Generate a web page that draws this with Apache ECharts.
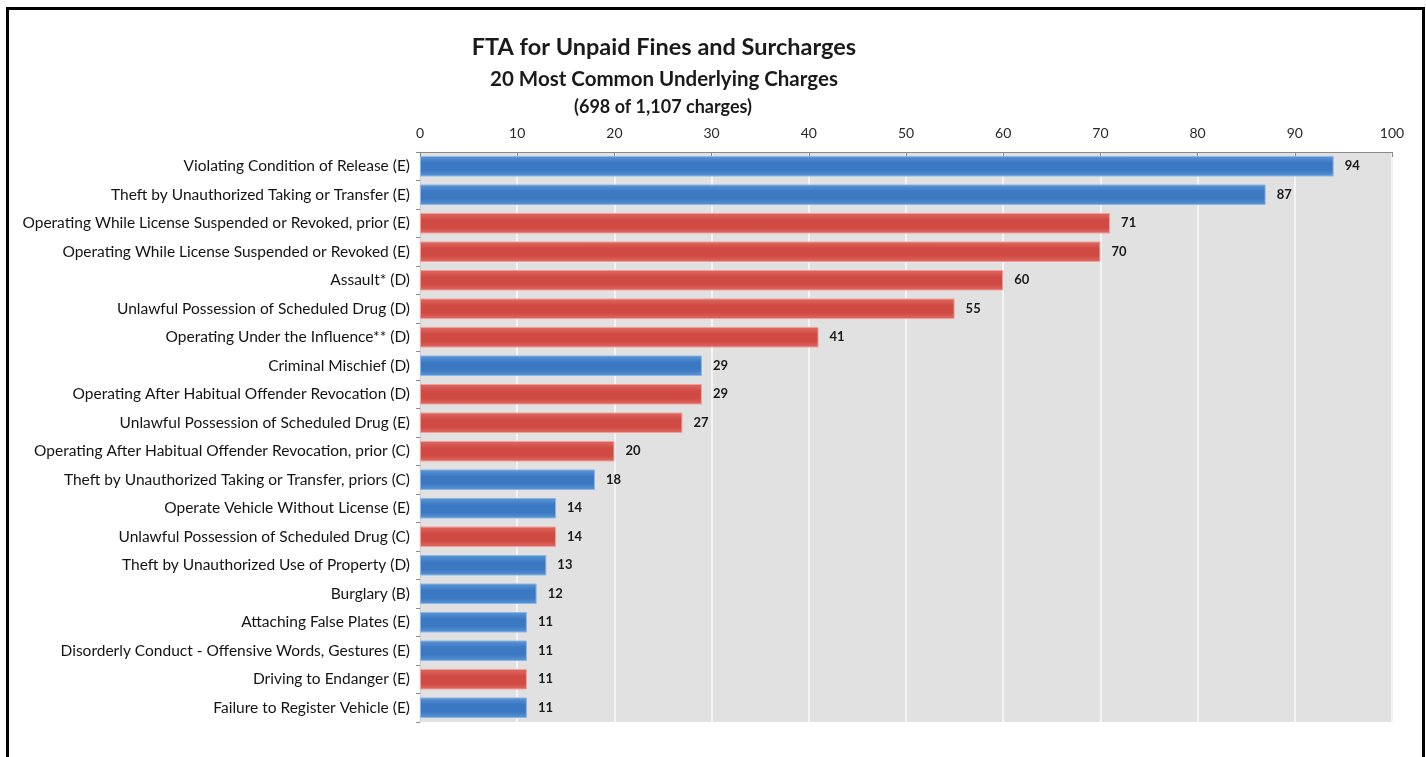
<!DOCTYPE html>
<html>
<head>
<meta charset="utf-8">
<script src="https://cdn.jsdelivr.net/npm/echarts@6/dist/echarts.min.js"></script>
<style>
  html, body { margin: 0; padding: 0; background: #fff; }
  #chart { width: 1426px; height: 757px; }
</style>
</head>
<body>
<div id="chart"></div>
<script>
const titleLines = ["FTA for Unpaid Fines and Surcharges", "20 Most Common Underlying Charges", "(698 of 1,107 charges)"];

const categories = [
  "Violating Condition of Release (E)",
  "Theft by Unauthorized Taking or Transfer (E)",
  "Operating While License Suspended or Revoked, prior (E)",
  "Operating While License Suspended or Revoked (E)",
  "Assault* (D)",
  "Unlawful Possession of Scheduled Drug (D)",
  "Operating Under the Influence** (D)",
  "Criminal Mischief (D)",
  "Operating After Habitual Offender Revocation (D)",
  "Unlawful Possession of Scheduled Drug (E)",
  "Operating After Habitual Offender Revocation, prior (C)",
  "Theft by Unauthorized Taking or Transfer, priors (C)",
  "Operate Vehicle Without License (E)",
  "Unlawful Possession of Scheduled Drug (C)",
  "Theft by Unauthorized Use of Property (D)",
  "Burglary (B)",
  "Attaching False Plates (E)",
  "Disorderly Conduct - Offensive Words, Gestures (E)",
  "Driving to Endanger (E)",
  "Failure to Register Vehicle (E)"
];

const values = [94, 87, 71, 70, 60, 55, 41, 29, 29, 27, 20, 18, 14, 14, 13, 12, 11, 11, 11, 11];

// colour group for each bar: "blue" or "red"
const groups = ["blue", "blue", "red", "red", "red", "red", "red", "blue", "red", "red",
                "red", "blue", "blue", "red", "blue", "blue", "blue", "blue", "red", "blue"];

const xTicks = [0, 10, 20, 30, 40, 50, 60, 70, 80, 90, 100];

const palette = {
  blue: { edge: "#5b96d6", mid: "#3b78c2", border: "#8db6e3" },
  red:  { edge: "#e06a63", mid: "#cf4a43", border: "#eea19c" }
};

function grad(c) {
  return new echarts.graphic.LinearGradient(0, 0, 0, 1, [
    { offset: 0, color: c.edge },
    { offset: 0.35, color: c.mid },
    { offset: 0.7, color: c.mid },
    { offset: 1, color: c.edge }
  ]);
}

const barData = values.map((v, i) => ({
  value: v,
  itemStyle: { color: grad(palette[groups[i]]), borderColor: palette[groups[i]].border, borderWidth: 1 }
}));

const chart = echarts.init(document.getElementById('chart'), null, { renderer: 'canvas' });
const FONT = 'Lato, "Open Sans", sans-serif';

chart.setOption({
  animation: false,
  backgroundColor: '#ffffff',
  title: [
    { text: titleLines[0], left: 659, top: 30, textAlign: 'center',
      textStyle: { fontFamily: FONT, fontSize: 23.5, fontWeight: 'bold', color: '#1a1a1a' } },
    { text: titleLines[1], left: 659, top: 64, textAlign: 'center',
      textStyle: { fontFamily: FONT, fontSize: 20.5, fontWeight: 'bold', color: '#1a1a1a' } },
    { text: titleLines[2], left: 658, top: 93, textAlign: 'center',
      textStyle: { fontFamily: FONT, fontSize: 18, fontWeight: 'bold', color: '#1a1a1a' } }
  ],
  graphic: [
    { type: 'rect', left: 5, top: 6, shape: { width: 1416, height: 770 },
      style: { fill: 'none', stroke: '#000', lineWidth: 3 }, z: 100 }
  ],
  grid: {
    left: 420, right: 34, top: 152, height: 570,
    show: true, backgroundColor: '#e1e1e1', borderWidth: 0
  },
  xAxis: {
    type: 'value', position: 'top', min: 0, max: 100, interval: 10,
    axisLine: { show: true, lineStyle: { color: '#8a8a8a', width: 1 } },
    axisTick: { show: true, inside: true, length: 5, lineStyle: { color: '#8a8a8a' } },
    axisLabel: { fontFamily: FONT, fontSize: 14, color: '#2a2a2a', margin: 12,
      formatter: v => xTicks.includes(v) ? String(v) : '' },
    splitLine: { show: true, lineStyle: { color: '#f4f4f4', width: 2 } }
  },
  yAxis: {
    type: 'category', data: categories, inverse: true,
    axisLine: { show: true, lineStyle: { color: '#d0d0d0' } },
    axisTick: { show: true, length: 4, lineStyle: { color: '#8a8a8a' } },
    axisLabel: { fontFamily: FONT, fontSize: 15.5, color: '#141414', margin: 10 }
  },
  series: [{
    type: 'bar', data: barData, barWidth: '72%',
    label: { show: true, position: 'right', distance: 11,
      fontFamily: FONT, fontSize: 13, fontWeight: 'bold', color: '#1a1a1a' }
  }]
});
</script>
</body>
</html>
